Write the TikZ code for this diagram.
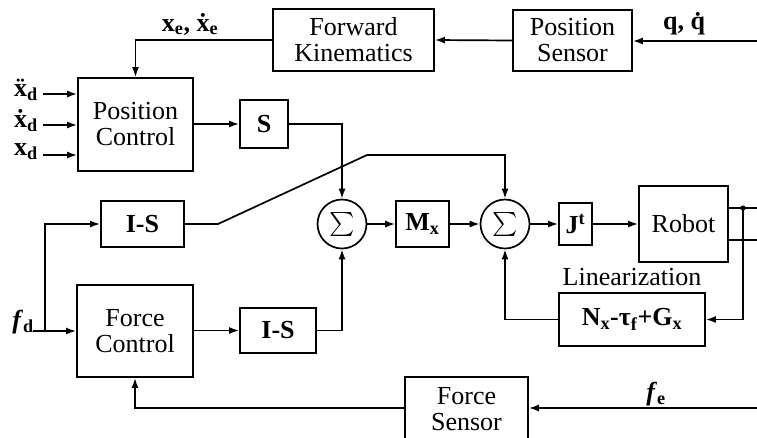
\documentclass[tikz,border=0pt]{standalone}
\usepackage{fontspec}
\setmainfont{Liberation Serif}
\usetikzlibrary{arrows.meta}
\tikzset{
  txt/.style={font=\fontsize{26}{26}\selectfont},
  blk/.style={draw, line width=1.7pt, inner sep=0pt, align=center, txt},
  sumnode/.style={draw, circle, line width=1.7pt, minimum size=49pt, inner sep=0pt},
  wire/.style={line width=1.7pt},
  arr/.style={wire, -{Latex[length=10pt,width=7pt]}},
  lbl/.style={txt, inner sep=0pt},
}
\newcommand{\bigsum}{\scalebox{2.4}{$\boldsymbol{\sum}$}}
\usepackage{amsmath}
\begin{document}
\begin{tikzpicture}[x=1pt,y=-1pt]
\clip (0,0) rectangle (757,437);

% blocks
\node[blk, minimum width=161pt, minimum height=62pt] (fk) at (353.5,40) {Forward\\Kinematics};
\node[blk, minimum width=119pt, minimum height=61pt] (ps) at (572.5,40.5) {Position\\Sensor};
\node[blk, minimum width=115pt, minimum height=93pt] (pc) at (135.5,124.5) {Position\\Control};
\node[blk, minimum width=48pt, minimum height=48pt] (s) at (264,124) {\textbf{S}};
\node[blk, minimum width=83pt, minimum height=46pt] (is1) at (142.5,224) {\textbf{I-S}};
\node[sumnode] (sum1) at (342,224) {\bigsum};
\node[blk, minimum width=53pt, minimum height=46pt] (mx) at (422.5,224) {\textbf{M}\textsubscript{\textbf{x}}};
\node[sumnode] (sum2) at (505,224) {\bigsum};
\node[blk, minimum width=33pt, minimum height=42pt] (jt) at (575.5,224) {\textbf{J}\textsuperscript{\textbf{t}}};
\node[blk, minimum width=89pt, minimum height=76pt] (robot) at (683.5,224) {Robot};
\node[blk, minimum width=146pt, minimum height=53pt] (lin) at (632,319.5) {\textbf{N}\textsubscript{\textbf{x}}\textbf{-τ}\textsubscript{\textbf{f}}\textbf{+G}\textsubscript{\textbf{x}}};
\node[lbl, anchor=south] (linlbl) at ([yshift=6pt]lin.north) {Linearization};
\node[blk, minimum width=116pt, minimum height=92pt] (fc) at (135,331) {Force\\Control};
\node[blk, minimum width=76pt, minimum height=45pt] (is2) at (278,330.5) {\textbf{I-S}};
\node[blk, minimum width=123pt, minimum height=64pt] (fs) at (466.5,409) {Force\\Sensor};

% outside signals
\coordinate (qin) at (757,41);
\coordinate (fein) at (757,408);
\coordinate (i1) at (43,94);
\coordinate (i2) at (43,125);
\coordinate (i3) at (43,155);
\coordinate (fdin) at (33,331);
\coordinate (fdbr) at (45,331);
\coordinate (out1) at (757,208);
\coordinate (out2) at (757,240);
\coordinate (tap) at (743,208);
\coordinate (bend) at (218,224);
\coordinate (rise) at (367,155);

% labels
\node[lbl] (xe) at (190,24) {\textbf{x}\textsubscript{\textbf{e}}\textbf{, \.{x}}\textsubscript{\textbf{e}}};
\node[lbl] (qq) at (685,24) {\textbf{q, \.{q}}};
\node[lbl, anchor=east] (l1) at (38,90) {\textbf{\"{x}}\textsubscript{\textbf{d}}};
\node[lbl, anchor=east] (l2) at (38,121) {\textbf{\.{x}}\textsubscript{\textbf{d}}};
\node[lbl, anchor=east] (l3) at (38,152) {\textbf{x}\textsubscript{\textbf{d}}};
\node[lbl] (fd) at (23,322) {\textbf{\textit{f}}\textsubscript{\textbf{d}}};
\node[lbl] (fe) at (656,394) {\textbf{\textit{f}}\textsubscript{\textbf{e}}};

% top feedback path
\draw[arr] (qin) -- (ps.east |- qin);
\draw[arr] (ps.west) -- (fk.east);
\draw[arr] (fk.west) -| (pc.north);
\draw[arr] (i1) -- (i1 -| pc.west);
\draw[arr] (i2) -- (i2 -| pc.west);
\draw[arr] (i3) -- (i3 -| pc.west);
\draw[arr] (pc.east |- s.west) -- (s.west);
\draw[arr] (s.east) -| (sum1.north);

% forward chain
\draw[arr] (is1.east) -- (bend) -- (rise) -| (sum2.north);
\draw[arr] (sum1.east) -- (mx.west);
\draw[arr] (mx.east) -- (sum2.west);
\draw[arr] (sum2.east) -- (jt.west);
\draw[arr] (jt.east) -- (robot.west);
\draw[wire] (robot.east |- out1) -- (out1);
\draw[wire] (robot.east |- out2) -- (out2);
\fill (tap) circle (2.6pt);
\draw[arr] (tap) |- (lin.east);
\draw[arr] (lin.west) -| (sum2.south);

% force path
\draw[arr] (fdin) -- (fc.west);
\draw[arr] (fdbr) |- (is1.west);
\draw[arr] (fc.east |- is2.west) -- (is2.west);
\draw[arr] (is2.east) -| (sum1.south);
\draw[arr] (fein) -- (fs.east |- fein);
\draw[arr] (fs.west |- fein) -| (fc.south);
\end{tikzpicture}
\end{document}
